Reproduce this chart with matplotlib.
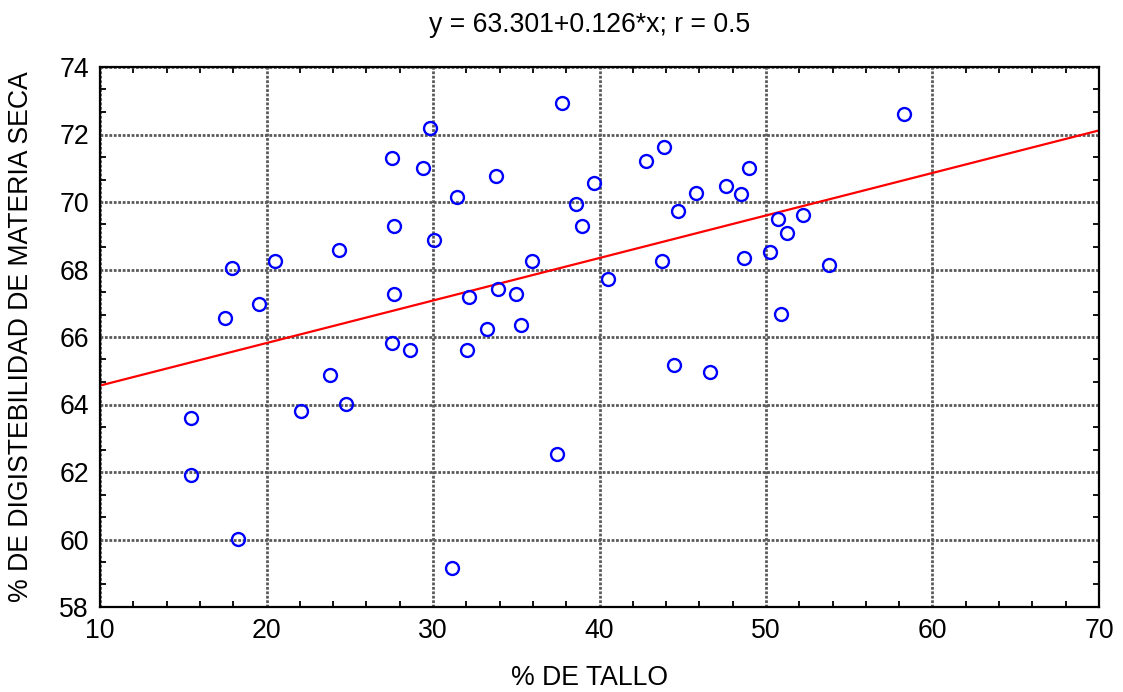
import matplotlib
matplotlib.use("Agg")
import matplotlib.pyplot as plt
from matplotlib.ticker import MultipleLocator
import numpy as np

plt.rcParams['font.family'] = ['Liberation Sans', 'DejaVu Sans']

# % DE TALLO
tallo = [15.47, 15.47, 18.3, 22.1, 23.8, 24.8,
         17.93, 17.5, 19.55, 20.5, 24.35,
         29.82, 27.54, 29.4, 33.78, 31.44, 37.75, 39.67, 38.6, 38.95, 27.66,
         30.06, 35.95, 27.66, 32.16, 33.9, 34.98, 33.24, 35.29,
         27.54, 28.62, 32.04, 37.45, 31.14,
         43.87, 42.79, 48.98, 47.6, 48.5, 45.8, 44.71, 50.72, 52.22, 51.26,
         43.75, 48.68, 50.24, 53.78, 40.51, 50.9,
         58.29, 44.47, 46.64]
# % DE DIGISTEBILIDAD DE MATERIA SECA
digest = [63.6, 61.9, 60.02, 63.8, 64.87, 64.01,
          68.04, 66.56, 66.98, 68.25, 68.58,
          72.19, 71.3, 71.0, 70.77, 70.15, 72.93, 70.56, 69.94, 69.29, 69.29,
          68.87, 68.25, 67.27, 67.18, 67.42, 67.27, 66.24, 66.36,
          65.82, 65.61, 65.61, 62.53, 59.16,
          71.63, 71.21, 71.0, 70.47, 70.24, 70.27, 69.73, 69.5, 69.61, 69.08,
          68.25, 68.34, 68.52, 68.13, 67.72, 66.68,
          72.61, 65.17, 64.96]

intercept = 63.301
slope = 0.126
title = "y = 63.301+0.126*x; r = 0.5"

FS = 19.2

fig = plt.figure(figsize=(11.23, 6.92), dpi=100)
ax = fig.add_axes([100/1123, 1-607/692, 999/1123, 540/692])

ax.plot(tallo, digest, linestyle='none', marker='o', markersize=9.3,
        markerfacecolor='none', markeredgecolor='#0000ff', markeredgewidth=1.7,
        zorder=3)
xl = np.array([10, 70])
ax.plot(xl, intercept + slope * xl, color='#ff0000', lw=1.6, zorder=2)

ax.set_xlim(10, 70)
ax.set_ylim(58, 74)
ax.xaxis.set_major_locator(MultipleLocator(10))
ax.yaxis.set_major_locator(MultipleLocator(2))
ax.xaxis.set_minor_locator(MultipleLocator(2))
ax.yaxis.set_minor_locator(MultipleLocator(2/3))

ax.grid(True, which='major', color='0.35', linestyle=(0, (1, 0.6)), lw=2.0, zorder=1)
ax.tick_params(which='both', direction='in', top=True, right=True,
               labelsize=FS, color='black')
ax.tick_params(which='major', length=0, pad=8)
ax.tick_params(which='minor', length=4, width=1.3)
for s in ax.spines.values():
    s.set_linewidth(1.6)
    s.set_color('black')

ax.set_xlabel('% DE TALLO', fontsize=FS)
ax.set_ylabel('% DE DIGISTEBILIDAD DE MATERIA SECA', fontsize=FS)
ax.xaxis.set_label_coords(0.49, -0.108)
ax.yaxis.set_label_coords(-0.066, 0.5)
ax.set_title(title, fontsize=FS, pad=25, x=0.49)

fig.savefig('out.png', dpi=100)
